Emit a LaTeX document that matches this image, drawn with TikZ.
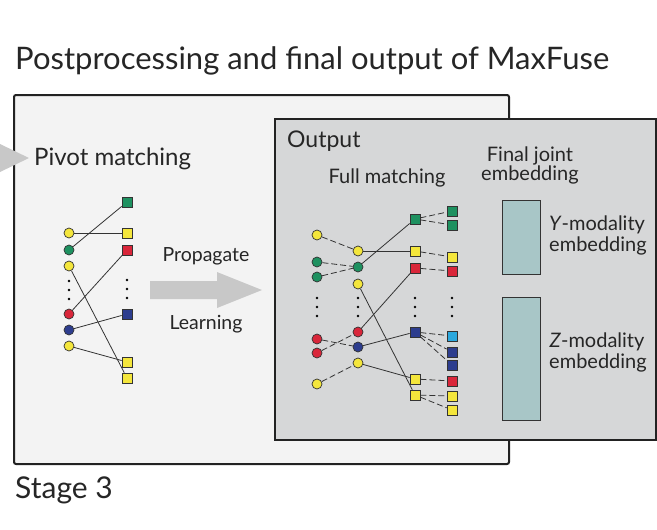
\documentclass[tikz,border=0pt]{standalone}
\usepackage{fontspec}
\setmainfont{Lato}
\usetikzlibrary{positioning}
\definecolor{boxgray}{HTML}{F3F3F3}
\definecolor{outgray}{HTML}{D6D7D8}
\definecolor{arrowgray}{HTML}{C8C8C8}
\definecolor{frame}{HTML}{222222}
\definecolor{edge}{HTML}{333333}
\definecolor{cyel}{HTML}{F4E63C}
\definecolor{cgreen}{HTML}{1E9160}
\definecolor{cred}{HTML}{D9263A}
\definecolor{cblue}{HTML}{2D3D8E}
\definecolor{ccyan}{HTML}{2BA8DE}
\definecolor{embfill}{HTML}{A8C6C7}
\tikzset{
  circ/.style={circle, draw=edge, line width=0.7pt, minimum size=10pt, inner sep=0pt},
  sqr/.style={rectangle, draw=edge, line width=0.7pt, minimum size=10pt, inner sep=0pt},
  link/.style={draw=edge, line width=0.8pt},
  dlink/.style={link, dash pattern=on 6pt off 3pt},
  txt/.style={inner sep=0pt, text=black!85}
}
\newcommand{\FS}[1]{\fontsize{#1}{#1}\selectfont}

\begin{document}
\begin{tikzpicture}[x=1pt, y=-1pt]
\newcommand\threedots[2]{\fill[black] (#1,#2) circle (1.4pt) (#1,#2+9) circle (1.4pt) (#1,#2+18) circle (1.4pt);}
\useasboundingbox (0,0) rectangle (657,530);

% frames
\draw[fill=boxgray, draw=frame, line width=2pt, rounded corners=2pt] (14,95) rectangle (509,464);
\draw[fill=outgray, draw=frame, line width=2pt] (275,119) rectangle (656,440);
\fill[arrowgray] (0,144) -- (29,158) -- (0,172) -- cycle;

% texts
\node[txt, anchor=base west, font=\FS{31}] (title) at (15,69) {Postprocessing and final output of MaxFuse};
\node[txt, anchor=base west, font=\FS{30}] (stage) at (15,498) {Stage 3};
\node[txt, anchor=base west, font=\FS{24}] (pivot) at (34,165) {Pivot matching};
\node[txt, anchor=base west, font=\FS{23}] (output) at (287,147) {Output};
\node[txt, anchor=base, font=\FS{20}] (full) at (387,183) {Full matching};
\node[txt, anchor=base, font=\FS{20}] (final) at (530,161) {Final joint};
\node[txt, anchor=base, font=\FS{20}] (finalb) at (530,180) {embedding};
\node[txt, anchor=base, font=\FS{19.5}] (prop) at (206,261) {Propagate};
\node[txt, anchor=base, font=\FS{19.5}] (learn) at (206,329) {Learning};
\node[txt, anchor=base, font=\FS{20}] (ymod) at (597,230) {\textit{Y}-modality};
\node[txt, anchor=base, font=\FS{20}] (yemb) at (598,251) {embedding};
\node[txt, anchor=base, font=\FS{20}] (zmod) at (597,347) {\textit{Z}-modality};
\node[txt, anchor=base, font=\FS{20}] (zemb) at (598,368) {embedding};

% propagate arrow
\fill[arrowgray] (150,281) -- (217,281) -- (217,272) -- (262,290) -- (217,308) -- (217,299) -- (150,299) -- cycle;

% embeddings
\draw[fill=embfill, draw=edge, line width=1pt] (502,200) rectangle (540,274);
\draw[fill=embfill, draw=edge, line width=1pt] (502,297) rectangle (540,420);

% pivot matching
\node[circ, fill=cyel]   (lc1) at (69,233) {};
\node[circ, fill=cgreen] (lc2) at (69,250) {};
\node[circ, fill=cyel]   (lc3) at (69,266) {};
\node[circ, fill=cred]   (lc4) at (69,314) {};
\node[circ, fill=cblue]  (lc5) at (69,330) {};
\node[circ, fill=cyel]   (lc6) at (69,346) {};
\node[sqr, fill=cgreen] (ls1) at (127,202) {};
\node[sqr, fill=cyel]   (ls2) at (127,233) {};
\node[sqr, fill=cred]   (ls3) at (127,250) {};
\node[sqr, fill=cblue]  (ls4) at (127,314) {};
\node[sqr, fill=cyel]   (ls5) at (127,362) {};
\node[sqr, fill=cyel]   (ls6) at (127,378) {};
\threedots{69}{281}
\threedots{127}{280}

\draw[link] (lc1) -- (ls2);
\draw[link] (lc2) -- (ls1);
\draw[link] (lc3) -- (ls6);
\draw[link] (lc4) -- (ls3);
\draw[link] (lc5) -- (ls4);
\draw[link] (lc6) -- (ls5);

% full matching
\node[circ, fill=cyel]   (a1) at (317,235) {};
\node[circ, fill=cgreen] (a2) at (317,262) {};
\node[circ, fill=cgreen] (a3) at (317,277) {};
\node[circ, fill=cred]   (a4) at (317,339) {};
\node[circ, fill=cred]   (a5) at (317,353) {};
\node[circ, fill=cyel]   (a6) at (317,384) {};

\node[circ, fill=cyel]   (b1) at (358,251) {};
\node[circ, fill=cgreen] (b2) at (358,267) {};
\node[circ, fill=cyel]   (b3) at (358,284) {};
\node[circ, fill=cred]   (b4) at (358,332) {};
\node[circ, fill=cblue]  (b5) at (358,347) {};
\node[circ, fill=cyel]   (b6) at (358,363) {};

\node[sqr, fill=cgreen] (c1) at (415,219) {};
\node[sqr, fill=cyel]   (c2) at (415,251) {};
\node[sqr, fill=cred]   (c3) at (415,268) {};
\node[sqr, fill=cblue]  (c4) at (415,332) {};
\node[sqr, fill=cyel]   (c5) at (415,379) {};
\node[sqr, fill=cyel]   (c6) at (415,395) {};

\node[sqr, fill=cgreen] (d1) at (452,211) {};
\node[sqr, fill=cgreen] (d2) at (452,225) {};
\node[sqr, fill=cyel]   (d3) at (452,257) {};
\node[sqr, fill=cred]   (d4) at (452,271) {};
\node[sqr, fill=ccyan]  (d5) at (452,336) {};
\node[sqr, fill=cblue]  (d6) at (452,352) {};
\node[sqr, fill=cblue]  (d7) at (452,365) {};
\node[sqr, fill=cred]   (d8) at (452,381) {};
\node[sqr, fill=cyel]   (d9) at (452,396) {};
\node[sqr, fill=cyel]   (d10) at (452,410) {};

\threedots{317}{298}
\threedots{358}{298}
\threedots{415}{298}
\threedots{452}{298}

\draw[dlink] (a1) -- (b1);
\draw[dlink] (a2) -- (b2);
\draw[dlink] (a3) -- (b2);
\draw[dlink] (a4) -- (b5);
\draw[dlink] (a5) -- (b4);
\draw[dlink] (a6) -- (b6);

\draw[link] (b1) -- (c2);
\draw[link] (b2) -- (c1);
\draw[link] (b3) -- (c6);
\draw[link] (b4) -- (c3);
\draw[link] (b5) -- (c4);
\draw[link] (b6) -- (c5);

\draw[dlink] (c1) -- (d1);
\draw[dlink] (c1) -- (d2);
\draw[dlink] (c2) -- (d3);
\draw[dlink] (c3) -- (d4);
\draw[dlink] (c4) -- (d5);
\draw[dlink] (c4) -- (d6);
\draw[dlink] (c4) -- (d7);
\draw[dlink] (c5) -- (d8);
\draw[dlink] (c6) -- (d9);
\draw[dlink] (c6) -- (d10);
\end{tikzpicture}
\end{document}
